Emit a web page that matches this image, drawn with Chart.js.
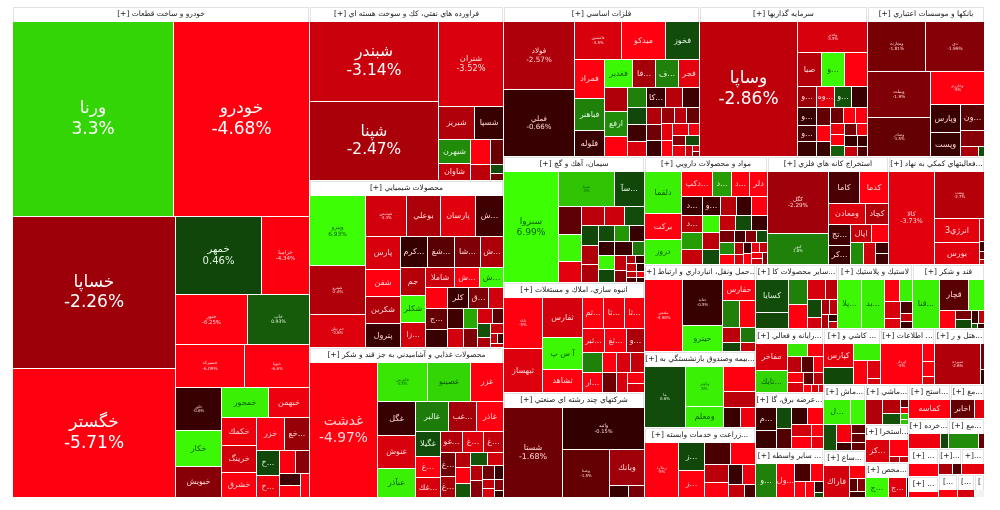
<!DOCTYPE html>
<html>
<head>
<meta charset="utf-8">
<style>
  html, body { margin: 0; background: #fff; }
  #box { position: relative; width: 1000px; height: 510px; }
</style>
<script src="https://cdn.jsdelivr.net/npm/chart.js"></script>
</head>
<body>
<div id="box"><canvas id="map"></canvas></div>
<script>
var sectorNames = [
  'خودرو و ساخت قطعات [+]', 'فراورده هاي نفتي، كك و سوخت هسته اي [+]', 'محصولات شيميايي [+]',
  'محصولات غذايي و آشاميدني به جز قند و شكر [+]', 'فلزات اساسي [+]', 'سرمايه گذاريها [+]',
  'بانكها و موسسات اعتباري [+]', 'سيمان، آهك و گچ [+]', 'انبوه سازي، املاك و مستغلات [+]',
  'شركتهاي چند رشته اي صنعتي [+]', 'مواد و محصولات دارويي [+]', 'استخراج كانه هاي فلزي [+]',
  '...فعاليتهاي كمكي به نهاد [+]', '...حمل ونقل، انبارداري و ارتباط [+]', '...بيمه وصندوق بازنشستگي به [+]',
  '...زراعت و خدمات وابسته [+]', '...ساير محصولات كا [+]', 'لاستيك و پلاستيك [+]', 'قند و شكر [+]',
  '...رايانه و فعالي [+]', '...عرضه برق، گا [+]', '... ساير واسطه [+]', '... كاشي و [+]', '... اطلاعات [+]',
  '...هتل و ر [+]', '...ماش [+]', '...ساع [+]', '...ماشي [+]', '...استخرا [+]', '...محص [+]',
  '...استج [+]', '...مغ [+]', '...خرده [+]', '...مع [+]', '... [+]', '... [+]', '[+]...', '+]...', '[...', '[...', '['
];
var sectorSizes = [
  145336, 33756, 32400, 29100, 29250, 25050, 17550, 17800, 15500, 14800, 13284, 13176, 10368,
  9500, 8350, 7750, 5166, 4725, 4536, 4420, 3808, 3332, 3192, 3080, 2800, 2730, 1960, 1720, 1677, 1505,
  1400, 1150, 1170, 1080, 840, 616, 600, 590, 450, 400, 225
];

var tileNames = [
  ['ورنا','خودرو','خساپا','خگستر','خمهر','خراميا','خنور','خاپ','خسيركه','خپويا','خاور','خكار','خبويش','خمحور','خبهمن','خكمك','خرينگ','خشرق','خزر','...خع','...خ','...خ'],
  ['شبندر','شپنا','شتران','شبريز','شسپا','شبهرن','شاوان'],
  ['وپترو','شپترو','جم پيلن','شپديس','بوعلي','پارسان','...ش','پارس','شفن','شكربن','پترول','...كرم','...شغ','...شا','...ش','جم','شكلر','...زا','شاملا','...ش','...ش','','...ج','','كلر','...ق'],
  ['غدشت','غكورش','غصينو','غزر','غگل','غنوش','عبآذر','غالبر','...غب','غاذر','غگيلا','...غ','...غك','...غو','...غ','...غ','...غ','...غ'],
  ['فولاد','فملي','فاسمين','ميدكو','فخوز','فمراد','فباهنر','فلوله','فغدير','...فا','...ف','فجر','','ارفع','','','','','','...كا'],
  ['وساپا','وغدير','صبا','...و','','...و','...وه','...و','','...و','...و'],
  ['وتجارت','دي','وبملت','وصادر','وخارزم','وپارس','وپست','...ون'],
  ['سبزوا','سيتا','...سآ'],
  ['ثاباد','ثبهساز','ثفارس','آ س پ','ثشاهد','...ثم','...ثا','...ثا','...ثبر','...ثغ','...و','','...ار'],
  ['شستا','واتيد','وصنا','وبانك'],
  ['دلقما','بركت','دروز','...دكپ','...د','...د','دلر','...د','...د','','','...و'],
  ['كگل','كنور','كاما','كدما','ومعادن','كچاد','...تج','...كر','اپال'],
  ['كالا','ونفت','انرژي3','بورس'],
  ['ملتس','حتايد','حيترو','حفارس'],
  ['ما','وكوثر','ومعلم'],
  ['زملارد','...ز','...ز'],
  ['كسايا'],
  ['...پلا','...بد'],
  ['...قنا','قچار'],
  ['مفاخر','...تايك'],
  ['...م'],
  ['...و','...ول'],
  ['كپارس'],
  ['اپرداز'],
  ['سپرده'],
  ['...ل'],
  ['فاراك'],
  [],
  ['...كز'],
  ['...ج','...ج'],
  ['كماسه'],
  ['اخابر'],
  [], [], [], [], [], [], [], [], []
];

var tileSizes = [
  [31200,26400,24600,20900,6700,3700,3600,3100,2970,2800,1980,1650,1430,1400,1220,970,940,900,890,780,570,480,370,320,270,260,200],
  [10240,10000,5440,1155,950,740,530,500,330,320,110,91],
  [3800,2640,1815,1600,1360,1360,1120,1120,920,880,820,810,810,750,700,670,640,600,580,500,480,460,440,400,420,400,300,300,285,266,247,228,165,165,130,130,70,60,50],
  [9045,1910,1640,1290,1260,1220,1070,990,840,810,625,525,500,440,420,400,360,304,228,225,210,210,204,180,190,180,130,110,110,90,60],
  [4700,4550,1700,1630,1220,1150,940,770,770,640,640,590,530,530,440,380,324,306,288,360,320,320,238,238,224,200,200,200,176,176,176,130,130,130,130,70,40,30],
  [13000,2140,780,760,740,400,390,360,320,320,290,275,245,230,200,195,180,170,160,150,150,150,130,140,120,100,90],
  [2900,2900,2790,2420,1730,840,720,620,370,160,60],
  [5830,1890,1015,590,560,440,410,360,360,320,305,290,240,240,225,225,225,205,230,170,165,125,75,70,70,60,60,50,50,40],
  [1850,1590,1440,1150,850,620,600,590,480,480,410,380,370,270,270,260,260,200,190,140],
  [5070,3360,2160,1190,216,190],
  [1435,910,875,744,460,430,420,360,340,330,310,306,280,270,270,270,255,250,220,220,210,170,160,150,130,120,120,100,90,85,85,80,75,70,65,60],
  [3720,1890,960,930,780,490,460,420,380,310,280,260,150,150],
  [4100,2200,1030,950,110,50,40,25],
  [2500,1700,950,620,430,400,250,155,210,130],
  [2520,1600,800,820,500,330,300],
  [1350,510,500,430,400,300,260,200,180,150,100],
  [960,465,430,410,320,215,220,130,105,105,90,60,50],
  [1100,1010,290,270,250,135,130,100,70],
  [1150,810,440,250,130,120,80,70,30,30],
  [780,630,228,192,195,165,150,140,140,100,100,60,50,40],
  [420,340,270,265,250,235,220,215,130,125],
  [700,600,275,220,170,136,104,48],
  [640,460,410,290,200,65],
  [1560,200,160,85],
  [1710,100,55],
  [600,340,300,220,105,105,110,100],
  [830,210,105,95,85],
  [390,220,170,60,50,40,40],
  [510,300,60,55],
  [460,350,40],
  [720],
  [420,165],
  [270,65],
  [255,55],
  [400],
  [200],
  [150,95],
  [250],
  [170],
  [160],
  [70]
];

var tileChanges = [
  [3.3,-4.68,-2.26,-5.71,0.46,-4.34,-6.25,0.93,-6.09,-6.6,-0.6,6,-2,5,-4,-4,-3.3,-4.5,-4.3,-2.2,0.5,-4,-4.3,-2,-0.8,-5,-4.5],
  [-3.14,-2.47,-3.52,-2.6,-0.5,2,-3,-5,-1.6,-2.8,0.6,-1.8],
  [6.93,-2.6,-3.6,-3.3,-2.5,-3.7,-0.8,-3.5,-4.5,-2.6,-0.6,-0.4,-1.3,-1.9,-2.5,-2.7,6,-3.3,-3.2,-5,6,-5,-1.5,-0.6,-0.7,-1.9,-3.3,-0.8,-3.3,2.5,-1.9,-3.4,-1.3,0.7,-2.5,-3,-3,-0.5,-3],
  [-4.97,4.5,3.3,-4.5,-0.5,-3.5,5,1.7,-2.4,-4.5,0.6,-4.8,-3.5,-2.6,-3.7,-2.9,-1.7,-2.5,-2.7,-5,0.8,0.8,-3.3,-2.7,-2,-1.7,-0.5,-3,-3.5,-2,-0.3],
  [-2.57,-0.66,-3.5,-4.6,0.6,-5,1.8,-0.5,6,-2.4,1.8,-3.8,-2.6,2,-5,1.8,0.5,-0.8,-3.5,-0.7,-2.7,-0.8,-2.6,-1.7,-0.6,-2.2,-2.8,-1.6,-3.8,-4.5,-3.8,-4.2,-2,-3.8,0.6,-3,-3.5,-2],
  [-2.86,-3.5,-2.7,6,-5,-2.2,-3.7,0.7,-0.6,-0.5,-0.9,-0.5,-1.5,-4.8,-0.6,-1.7,-4.5,-4.3,-4,-4.5,1,-1.8,-4.6,-0.6,-3,-0.6,-1],
  [-1.81,-1.99,-1.9,-1.5,-5,-0.7,-0.5,-1.3,-2,-2.5,0.6],
  [6.99,3,0.5,-1.4,6,-3.8,-2.8,-3.2,0.6,0.5,-2.6,-2.5,0.6,2.2,-0.5,-0.5,6,0.5,-0.7,1.6,-3,-2,-2.5,-0.4,-3,-0.3,-3,-1,-4,-0.5],
  [-5,-3.6,-3.4,6,-4.5,-4.7,-4,-4.2,-4,-4.3,-2.5,1.8,-4.3,-5,-1.7,-3.5,-3,-3.5,-4.3,-3.5],
  [-1.68,-0.15,-1.5,-2.3,-0.4,-1.8],
  [5,-4.7,5.5,-4.8,2.3,-4.5,-4.5,-0.5,-2.8,2.3,-3,-0.7,-2.7,-0.7,-4.7,6,-2.8,0.6,-3,0.6,-0.6,-1.8,2,-4.6,-0.9,-2,0.6,-2.7,-3.5,-0.5,-4.5,-4,-3,-4,-3,-2],
  [-2.29,1.8,-1,-4.6,-3.6,-2.6,-0.8,-0.5,-3,-5,2,-3.3,-0.7,-0.8],
  [-3.73,-2.7,-3.8,-3.7,-3,-0.6,-1.8,-3],
  [-4.98,-0.5,6,-4.8,1.8,-5,-2.8,0.5,1.6,-3],
  [0.6,5,5,-4.7,-2.8,-0.6,-4],
  [-5,0.5,-5,-1,-4.5,-2.8,-4.5,-0.5,-4,-3,-1],
  [0.6,0.5,1.8,-5,-3.5,-2.8,0.5,-3.3,-2.5,-2.8,-2.5,-0.5,-3],
  [6,5,-5,5,-3.5,-3.6,-1,-3,-0.5],
  [5,-1.3,6,-5,-1.8,0.5,-0.5,-3,1,-0.5],
  [-3.5,3.3,4.5,-5,-2.8,-1.2,-5,-4.5,-3.5,-1.4,-2.8,-4.5,-3.5,-4],
  [-0.5,-0.5,0.6,-1.2,-0.5,-5,-3.3,-5,-4.5,-3.8],
  [1.8,-5,-1,-4.5,-4.6,-4.6,-0.6,0.5],
  [-3.8,0.5,5,-5,-3.6,-3.3],
  [-5,-5,-4.8,-3.5],
  [-2.6,-1.8,-0.6],
  [5,6,0.7,-4.2,-0.7,-1.4,-1.5,-1.5],
  [-3.4,-4.6,-1.3,-2,-0.8],
  [-2.6,-2.7,0.7,-1.5,-4,3,3],
  [-3.6,-4.5,-2.6,-2.9],
  [6,-3.7,-0.5],
  [-5],
  [-1.5,-3.8],
  [-4,0.5],
  [2,-1.5],
  [-5],
  [-4.8],
  [-2.5,-1.2],
  [-3.8],
  [-5],
  [-3.4],
  [null]
];

// tiles that carry the change under the name, everything else shows the name only
var namesWithChange = ['ورنا','خودرو','خساپا','خگستر','خمهر','خراميا','خنور','خاپ','خسيركه','خپويا','خاور',
  'شبندر','شپنا','شتران','وپترو','شپترو','جم پيلن','شپديس','غدشت','غكورش','فولاد','فملي','فاسمين',
  'وساپا','وغدير','وتجارت','دي','وبملت','وصادر','وخارزم','سبزوا','سيتا','ثاباد','شستا','واتيد','وصنا',
  'كگل','كنور','كالا','ونفت','ملتس','حتايد','ما','وكوثر','زملارد','اپرداز','سپرده'];

var mapWidth = 972;
var mapHeight = 491;
var headerHeight = 15;

// squarified treemap: sizes are expected largest first
function squarify(sizes, x, y, w, h) {
  var total = sizes.reduce(function(a, b) { return a + b; }, 0);
  var scale = w * h / total;
  var out = [];
  var i = 0;
  while (i < sizes.length) {
    var side = Math.min(w, h);
    var sum = 0, best = Infinity, n = 0, lo = Infinity, hi = 0;
    while (i + n < sizes.length) {
      var v = sizes[i + n] * scale;
      var s2 = sum + v;
      var nlo = Math.min(lo, v), nhi = Math.max(hi, v);
      var worst = Math.max(side * side * nhi / (s2 * s2), s2 * s2 / (side * side * nlo));
      if (n > 0 && worst > best) break;
      sum = s2; lo = nlo; hi = nhi; best = worst; n++;
    }
    var depth = sum / side;
    var pos = 0;
    for (var k = 0; k < n; k++) {
      var len = sizes[i + k] * scale / depth;
      if (w >= h) {
        out.push({x0: x, x1: x + depth, y0: y + pos, y1: y + pos + len});
      } else {
        out.push({x0: x + pos, x1: x + pos + len, y0: y, y1: y + depth});
      }
      pos += len;
    }
    if (w >= h) { x += depth; w -= depth; } else { y += depth; h -= depth; }
    i += n;
  }
  return out;
}

var redStops = [[0, 48], [0.7, 58], [1.7, 110], [2.3, 160], [2.9, 192], [3.7, 225], [4.4, 255], [9, 255]];
var greenStops = [[0, 50], [0.5, 72], [1.8, 128], [3.3, 214], [5, 240], [7, 255], [9, 255]];

function lookup(stops, v) {
  for (var i = 1; i < stops.length; i++) {
    if (v <= stops[i][0]) {
      var t = (v - stops[i - 1][0]) / (stops[i][0] - stops[i - 1][0]);
      return Math.round(stops[i - 1][1] + t * (stops[i][1] - stops[i - 1][1]));
    }
  }
  return 255;
}

function tileColor(change) {
  if (change === null) return '#f2f2f2';
  if (change < 0) {
    var r = lookup(redStops, -change);
    return 'rgb(' + r + ',0,' + Math.round((r - 48) / 207 * 16) + ')';
  }
  var g = lookup(greenStops, change);
  return 'rgb(' + Math.round(g * 0.24) + ',' + g + ',' + Math.round(g < 140 ? 10 : 4) + ')';
}

var sectorRects = squarify(sectorSizes, 0, 0, mapWidth, mapHeight);
var sectorData = [];
var tileData = [];
sectorRects.forEach(function(r, s) {
  sectorData.push({x0: r.x0, x1: r.x1, y0: r.y0, y1: r.y1, name: sectorNames[s]});
  squarify(tileSizes[s], r.x0, r.y0 + headerHeight, r.x1 - r.x0, r.y1 - r.y0 - headerHeight).forEach(function(t, i) {
    tileData.push({x0: t.x0, x1: t.x1, y0: t.y0, y1: t.y1, name: tileNames[s][i] || '', change: tileChanges[s][i]});
  });
});

class TreemapController extends Chart.DatasetController {
  update(mode) {
    var rects = this._cachedMeta.data;
    this.updateElements(rects, 0, rects.length, mode);
  }
  updateElements(rects, start, count, mode) {
    var xs = this._cachedMeta.xScale, ys = this._cachedMeta.yScale;
    var data = this.getDataset().data;
    for (var i = start; i < start + count; i++) {
      var d = data[i];
      var left = Math.round(xs.getPixelForValue(d.x0));
      var right = Math.round(xs.getPixelForValue(d.x1)) - 1;
      var top = Math.round(ys.getPixelForValue(d.y0));
      var bottom = Math.round(ys.getPixelForValue(d.y1)) - 1;
      // BarElement wants these last three, the bar controller normally sets them
      this.updateElement(rects[i], i, {
        x: left, base: right, y: (top + bottom) / 2, height: bottom - top, width: right - left,
        horizontal: true, borderSkipped: {}, enableBorderRadius: false, inflateAmount: 0,
        options: this.resolveDataElementOptions(i, mode)
      }, mode);
    }
  }
}
TreemapController.id = 'treemap';
TreemapController.defaults = {dataElementType: 'bar', datasetElementType: false};
Chart.register(TreemapController);

function clipTo(ctx, el) {
  ctx.beginPath();
  ctx.rect(el.x, el.y - el.height / 2, el.base - el.x, el.height);
  ctx.clip();
}

function labelColor(change, size) {
  if (size >= 14) return '#fff';
  if (change >= 2.5) return '#0b5c08';
  return change >= 0 ? '#dff5df' : '#ffd6d6';
}

var labelPlugin = {
  id: 'labels',
  afterDatasetsDraw: function(chart) {
    var ctx = chart.ctx;
    ctx.textAlign = 'center';
    ctx.textBaseline = 'middle';
    chart.getDatasetMeta(1).data.forEach(function(el, i) {
      var d = sectorData[i];
      ctx.save();
      ctx.beginPath();
      ctx.rect(el.x, el.y - el.height / 2, el.base - el.x, headerHeight);
      ctx.clip();
      ctx.font = '7.5px "DejaVu Sans"';
      ctx.fillStyle = '#222';
      ctx.direction = /[\u0600-\u06FF]/.test(d.name) || d.name.indexOf('...') === 0 ? 'rtl' : 'ltr';
      ctx.fillText(d.name, (el.x + el.base) / 2, el.y - el.height / 2 + headerHeight / 2);
      ctx.restore();
    });
    chart.getDatasetMeta(0).data.forEach(function(el, i) {
      var d = tileData[i];
      if (!d.name) return;
      var cx = (el.x + el.base) / 2;
      ctx.save();
      clipTo(ctx, el);
      if (namesWithChange.indexOf(d.name) >= 0) {
        var area = (el.base - el.x) * el.height;
        var size = Math.max(4, Math.min(17, area / 650));
        ctx.font = size + 'px "DejaVu Sans"';
        ctx.fillStyle = labelColor(d.change, size);
        ctx.direction = 'rtl';
        ctx.fillText(d.name, cx, el.y - size * 0.6);
        ctx.direction = 'ltr';
        ctx.fillText(d.change + '%', cx, el.y + size * 0.6);
      } else {
        ctx.font = '8px "DejaVu Sans"';
        ctx.fillStyle = labelColor(d.change, 8);
        ctx.direction = 'rtl';
        ctx.fillText(d.name, cx, el.y);
      }
      ctx.restore();
    });
  }
};

new Chart(document.getElementById('map'), {
  type: 'treemap',
  data: {
    datasets: [{
      type: 'treemap',
      data: tileData,
      parsing: false,
      backgroundColor: tileData.map(function(d) { return tileColor(d.change); }),
      borderWidth: 0,
      borderSkipped: false
    }, {
      type: 'treemap',
      data: sectorData,
      parsing: false,
      backgroundColor: '#fff',
      borderColor: '#e2e2e2',
      borderWidth: 1,
      borderSkipped: false
    }]
  },
  options: {
    responsive: true,
    maintainAspectRatio: false,
    animation: false,
    events: [],
    layout: {padding: {left: 13, top: 7, right: 15, bottom: 12}},
    plugins: {legend: {display: false}, tooltip: {enabled: false}},
    scales: {
      x: {type: 'linear', display: false, min: 0, max: mapWidth},
      y: {type: 'linear', display: false, reverse: true, min: 0, max: mapHeight}
    }
  },
  plugins: [labelPlugin]
});
</script>
</body>
</html>
